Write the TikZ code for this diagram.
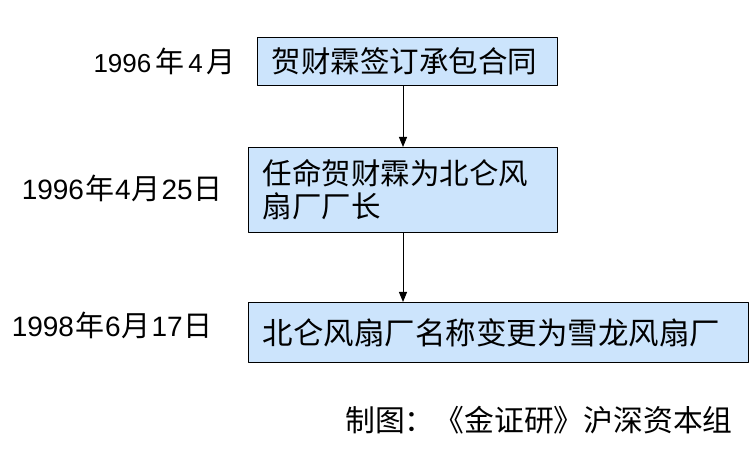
\documentclass[tikz,border=0pt]{standalone}
\usepackage{fontspec}
\setmainfont{Liberation Sans}
\newfontfamily\cjk{Noto Sans CJK SC}
\usetikzlibrary{arrows.meta,positioning}
\definecolor{boxblue}{RGB}{204,228,252}
\newcommand{\zi}[2][2pt]{\hspace{#1}{\cjk\fontsize{29}{29}\selectfont #2}\hspace{#1}}

\begin{document}
\begin{tikzpicture}[x=1pt,y=-1pt,line join=round,
  box/.style={draw=black,line width=1.2pt,fill=boxblue,anchor=north west,inner xsep=14pt,inner ysep=0pt,align=left,font=\cjk\fontsize{29.5}{33}\selectfont},
  link/.style={line width=1pt,-{Triangle[width=8pt,length=10pt]}}]
\useasboundingbox (0,0) rectangle (756,449);
\node[box,minimum width=300pt,minimum height=48pt,text width=272pt] (B1) at (257,37) {贺财霖签订承包合同};
\node[box,minimum width=309pt,minimum height=85pt,text width=281pt] (B2) at (248,147) {任命贺财霖为北仑风\\扇厂厂长};
\node[box,minimum width=500pt,minimum height=60pt,text width=472pt,font=\cjk\fontsize{30.5}{33}\selectfont] (B3) at (248,302) {北仑风扇厂名称变更为雪龙风扇厂};
\coordinate (X) at (403,0);
\draw[link] (B1.south -| X) -- (B2.north -| X);
\draw[link] (B2.south -| X) -- (B3.north -| X);
% dates on the left
\foreach \n/\x/\y/\s/\t in {D1/236/73/26/{1996\zi[4pt]{年}4\zi[4pt]{月}},D2/223/200/28/{1996\zi[1pt]{年}4\zi[1pt]{月}25\zi[1pt]{日}},D3/213/337/28/{1998\zi[1pt]{年}6\zi[1pt]{月}17\zi[1pt]{日}}}
  {\node[anchor=base east,inner sep=0pt,font=\fontsize{\s}{\s}\selectfont] (\n) at (\x,\y) {\t};}
\node[anchor=west,inner sep=0pt,font=\cjk\fontsize{29.8}{30}\selectfont] (F) at (345,420) {制图：《金证研》沪深资本组};
\end{tikzpicture}
\end{document}
